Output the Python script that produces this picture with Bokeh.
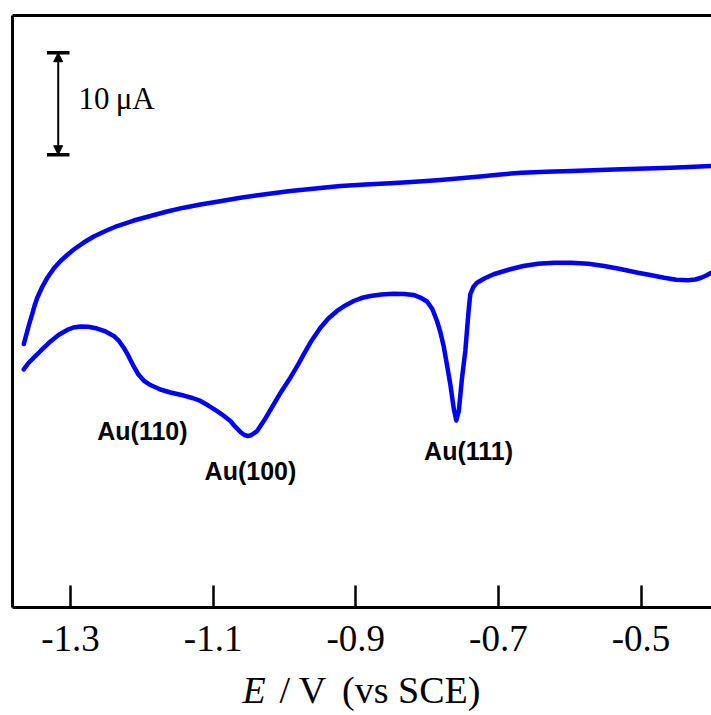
from bokeh.plotting import figure
from bokeh.layouts import column
from bokeh.models import FixedTicker, LinearAxis, Label, Arrow, NormalHead, Range1d
from bokeh.embed import file_html
from bokeh.resources import INLINE

# ---- data (E in V vs SCE, current in uA with arbitrary offset) ----
upper_E = [-1.3655, -1.3617, -1.3575, -1.3537, -1.3505, -1.3467, -1.3397, -1.3327,
           -1.3234, -1.3140, -1.3046, -1.2954, -1.2814, -1.2673, -1.2509, -1.2345,
           -1.2113, -1.1879, -1.1645, -1.1412, -1.1178, -1.0944, -1.0617, -1.0267,
           -0.9917, -0.9566, -0.9216, -0.8865, -0.8515, -0.8165, -0.7814, -0.7534,
           -0.7254, -0.6973, -0.6679, -0.6329, -0.5978, -0.5278, -0.4577, -0.4016]
upper_I = [25.83, 26.81, 27.89, 28.77, 29.56, 30.34, 31.42, 32.30,
           33.24, 33.97, 34.56, 35.10, 35.78, 36.37, 36.91, 37.40,
           37.94, 38.38, 38.82, 39.20, 39.51, 39.78, 40.18, 40.52,
           40.83, 41.08, 41.32, 41.47, 41.59, 41.74, 41.91, 42.08,
           42.25, 42.45, 42.63, 42.72, 42.79, 42.96, 43.12, 43.28]

lower_E = [-1.3655, -1.3589, -1.3514, -1.3420, -1.3280, -1.3168, -1.3046, -1.2958,
           -1.2860, -1.2748, -1.2626, -1.2509, -1.2393, -1.2320, -1.2253, -1.2187,
           -1.2113, -1.2047, -1.1973, -1.1879, -1.1739, -1.1598, -1.1412, -1.1290,
           -1.1178, -1.1066, -1.0944, -1.0856, -1.0758, -1.0687, -1.0617, -1.0561,
           -1.0512, -1.0463, -1.0383, -1.0281, -1.0151, -1.0043, -0.9917, -0.9819,
           -0.9730, -0.9622, -0.9496, -0.9384, -0.9262, -0.9146, -0.9029, -0.8922,
           -0.8795, -0.8641, -0.8469, -0.8319, -0.8189, -0.8095, -0.8001, -0.7926,
           -0.7861, -0.7814, -0.7768, -0.7723, -0.7674, -0.7625, -0.7590, -0.7555,
           -0.7510, -0.7464, -0.7418, -0.7394, -0.7352, -0.7300, -0.7198, -0.7067,
           -0.6833, -0.6651, -0.6445, -0.6217, -0.5978, -0.5740, -0.5516, -0.5292,
           -0.5043, -0.4871, -0.4675, -0.4507, -0.4343, -0.4240, -0.4156, -0.4086,
           -0.4016]
lower_I = [23.35, 23.97, 24.49, 25.15, 26.08, 26.72, 27.21, 27.45,
           27.55, 27.52, 27.35, 27.06, 26.62, 26.13, 25.47, 24.66,
           23.63, 22.84, 22.25, 21.81, 21.37, 21.08, 20.78, 20.54,
           20.25, 19.80, 19.26, 18.82, 18.28, 17.70, 17.21, 16.91,
           16.81, 16.91, 17.30, 18.38, 19.92, 21.18, 22.53, 23.68,
           24.82, 26.13, 27.43, 28.33, 29.07, 29.61, 30.05, 30.34,
           30.54, 30.69, 30.76, 30.74, 30.64, 30.39, 30.00, 29.26,
           28.09, 27.01, 25.64, 23.87, 21.88, 19.46, 18.33, 19.26,
           22.53, 25.15, 29.07, 30.71, 31.42, 31.84, 32.25, 32.67,
           33.16, 33.48, 33.71, 33.79, 33.80, 33.70, 33.48, 33.19,
           32.82, 32.60, 32.33, 32.13, 32.08, 32.16, 32.33, 32.55,
           32.82]

tick_vals = [-1.3, -1.1, -0.9, -0.7, -0.5]
tick_labels = ["-1.3", "-1.1", "-0.9", "-0.7", "-0.5"]

peak_names = ["Au(110)", "Au(100)", "Au(111)"]
peak_label_E = [-1.1991, -1.0477, -0.7418]
peak_label_I = [17.29, 13.37, 15.33]

scale_value = 10.0          # uA
scale_text = "10\u2009\u03bcA"
scale_E = -1.3172
scale_low = 44.39

x_start, x_end = -1.3813, -0.4012
y_start, y_end = 0.0, 58.04

BLUE = "#0000FF"

p = figure(width=711, height=668,
           x_range=Range1d(x_start, x_end), y_range=Range1d(y_start, y_end),
           output_backend="svg", toolbar_location=None,
           min_border_left=12, min_border_right=0, min_border_top=15, min_border_bottom=61)
p.outline_line_color = None
p.grid.visible = False
p.background_fill_color = "white"
p.border_fill_color = "white"

# bottom axis
xa = p.xaxis[0]
xa.ticker = FixedTicker(ticks=tick_vals)
xa.major_label_overrides = {v: s for v, s in zip(tick_vals, tick_labels)}
xa.major_tick_in = 22
xa.major_tick_out = 0
xa.minor_tick_in = 0
xa.minor_tick_out = 0
xa.axis_line_width = 3
xa.major_tick_line_width = 2.5
xa.major_label_text_font = "Liberation Serif"
xa.major_label_text_font_size = "37px"
xa.major_label_text_color = "black"
xa.major_label_standoff = 18

# left axis (frame line only)
ya = p.yaxis[0]
ya.ticker = FixedTicker(ticks=[])
ya.major_tick_in = 0
ya.major_tick_out = 0
ya.minor_tick_in = 0
ya.minor_tick_out = 0
ya.axis_line_width = 3
ya.major_label_text_font_size = "0px"
ya.major_label_standoff = 0

# top axis (frame line only)
ta = LinearAxis(ticker=FixedTicker(ticks=[]), major_tick_in=0, major_tick_out=0,
                minor_tick_in=0, minor_tick_out=0, axis_line_width=3,
                major_label_text_font_size="0px", major_label_standoff=0)
p.add_layout(ta, "above")

# curves
p.line(upper_E, upper_I, line_color=BLUE, line_width=4.5, line_join="round", line_cap="round")
p.line(lower_E, lower_I, line_color=BLUE, line_width=4.5, line_join="round", line_cap="round")

# scale bar
cap_half = 0.0158
scale_high = scale_low + scale_value
p.segment(x0=[scale_E - cap_half, scale_E - cap_half], x1=[scale_E + cap_half, scale_E + cap_half],
          y0=[scale_low, scale_high], y1=[scale_low, scale_high],
          line_color="black", line_width=3.5)
p.add_layout(Arrow(start=NormalHead(size=9, fill_color="black", line_color="black", line_width=1),
                   end=NormalHead(size=9, fill_color="black", line_color="black", line_width=1),
                   x_start=scale_E, y_start=scale_low, x_end=scale_E, y_end=scale_high,
                   line_color="black", line_width=2))
p.add_layout(Label(x=-1.2888, y=49.86, text=scale_text, text_font="Liberation Serif",
                   text_font_size="31px", text_color="black", text_baseline="alphabetic",
                   text_align="left"))

# peak labels
for name, e, i in zip(peak_names, peak_label_E, peak_label_I):
    p.add_layout(Label(x=e, y=i, text=name, text_font="Liberation Sans",
                       text_font_size="25px", text_font_style="bold", text_color="black",
                       text_align="center", text_baseline="alphabetic"))

# x axis title strip: italic E / V (vs SCE)
p2 = figure(width=711, height=47, x_range=p.x_range, y_range=Range1d(0, 47),
            output_backend="svg", toolbar_location=None,
            x_axis_location=None, y_axis_location=None,
            min_border_left=12, min_border_right=0, min_border_top=0, min_border_bottom=0)
p2.outline_line_color = None
p2.grid.visible = False
p2.background_fill_color = "white"
p2.border_fill_color = "white"
title_y = 26
p2.add_layout(Label(x=-1.0587, y=title_y, text="E", text_font="Liberation Serif",
                    text_font_size="38px", text_font_style="italic", text_color="black",
                    text_align="left", text_baseline="alphabetic"))
p2.add_layout(Label(x=-1.0071, y=title_y, text="/ V", text_font="Liberation Serif",
                    text_font_size="38px", text_color="black",
                    text_align="left", text_baseline="alphabetic"))
p2.add_layout(Label(x=-0.8222, y=title_y, text="(vs SCE)", text_font="Liberation Serif",
                    text_font_size="38px", text_color="black",
                    text_align="center", text_baseline="alphabetic"))

layout = column(p, p2, spacing=0)
open("out.html", "w").write(file_html(layout, INLINE))
